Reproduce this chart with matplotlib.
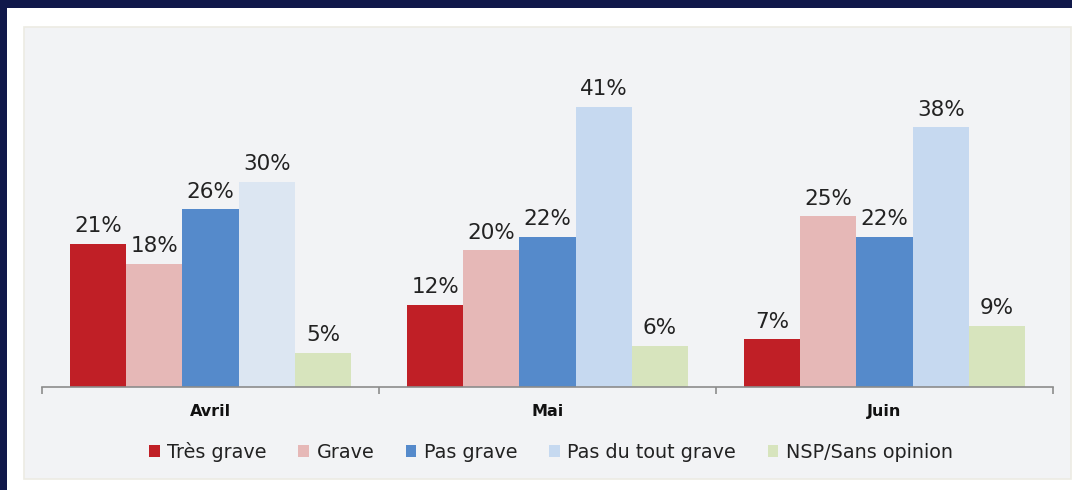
import matplotlib
matplotlib.use("Agg")
import matplotlib.pyplot as plt
from matplotlib.patches import Rectangle
import numpy as np

plt.rcParams['font.family'] = ['DejaVu Sans']

categories = ["Avril", "Mai", "Juin"]
series_names = ["Très grave", "Grave", "Pas grave", "Pas du tout grave", "NSP/Sans opinion"]
tres_grave = [21, 12, 7]
grave = [18, 20, 25]
pas_grave = [26, 22, 22]
pas_du_tout = [30, 41, 38]
nsp = [5, 6, 9]
series_values = [tres_grave, grave, pas_grave, pas_du_tout, nsp]
series_colors = ["#C01F26", "#E6B8B7", "#558ACB", "#C6D9F0", "#D7E4BD"]
pas_du_tout_colors = ["#DCE6F2", "#C6D9F0", "#C6D9F0"]

W, H = 1072, 490
fig = plt.figure(figsize=(W / 100, H / 100), dpi=100)
fig.patch.set_facecolor("white")

# frame elements
fig.patches.append(Rectangle((0, 1 - 8 / H), 1, 8 / H, transform=fig.transFigure,
                             facecolor="#10184A", edgecolor="none", zorder=-2))
fig.patches.append(Rectangle((0, 0), 7 / W, 1, transform=fig.transFigure,
                             facecolor="#10184A", edgecolor="none", zorder=-2))
fig.patches.append(Rectangle((24 / W, (H - 479) / H), 1047 / W, 452 / H, transform=fig.transFigure,
                             facecolor="#F2F3F5", edgecolor="#ECEBE3", linewidth=1.2, zorder=-2))

px_per = 6.83
ymax = 50
ax_h = ymax * px_per
ax = fig.add_axes([42 / W, (H - 387) / H, 1011 / W, ax_h / H])
ax.set_facecolor("none")
ax.set_zorder(2)

x = np.arange(len(categories))
n = len(series_names)
bw = 0.1668
for i, (name, vals, col) in enumerate(zip(series_names, series_values, series_colors)):
    offs = (i - (n - 1) / 2) * bw
    colors = pas_du_tout_colors if i == 3 else col
    bars = ax.bar(x + offs, vals, width=bw, color=colors, label=name, zorder=2)
    ax.bar_label(bars, labels=[f"{v}%" for v in vals], padding=5.5, fontsize=15.5,
                 color="#222222")

ax.set_xlim(-0.5, 2.5)
ax.set_ylim(0, ymax)
for s in ["top", "right", "left"]:
    ax.spines[s].set_visible(False)
ax.spines["bottom"].set_color("#8C8C8C")
ax.spines["bottom"].set_linewidth(1.2)
ax.set_yticks([])
ax.set_xticks(x)
ax.set_xticklabels(categories, fontsize=11.5, fontweight="bold", color="#111111")
ax.tick_params(axis="x", which="major", length=0, pad=12.5)
ax.set_xticks([-0.5, 0.5, 1.5, 2.5], minor=True)
ax.tick_params(axis="x", which="minor", length=5, width=1.2, color="#8C8C8C", direction="out")

handles, labels = ax.get_legend_handles_labels()
leg = fig.legend(handles, labels, loc="center", bbox_to_anchor=(551 / W, (H - 452) / H),
                 ncol=5, frameon=False, fontsize=13.8, handlelength=0.55, handleheight=0.55,
                 handletextpad=0.4, columnspacing=1.65, labelcolor="#222222")
leg.legend_handles[3].set_facecolor("#C6D9F0")

fig.savefig("out.png", dpi=100, facecolor=fig.get_facecolor())
